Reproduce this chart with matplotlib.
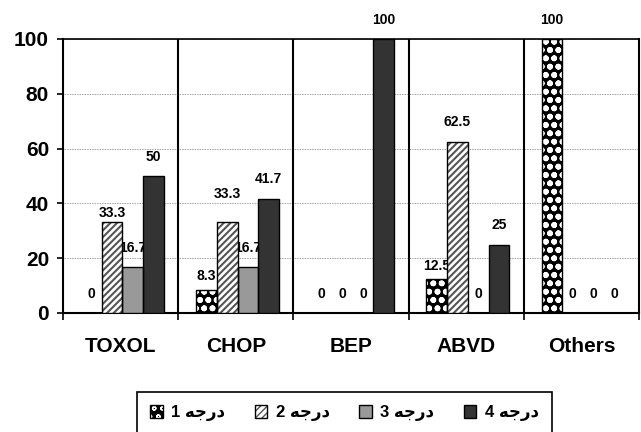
import matplotlib
matplotlib.use("Agg")
import matplotlib.pyplot as plt
from matplotlib.patches import Patch
import numpy as np

# data (percent of patients per grade)
categories = ["TOXOL", "CHOP", "BEP", "ABVD", "Others"]
grade_names = ["درجه 1", "درجه 2", "درجه 3", "درجه 4"]
grade1 = [0, 8.3, 0, 12.5, 100]
grade2 = [33.3, 33.3, 0, 62.5, 0]
grade3 = [16.7, 16.7, 0, 0, 0]
grade4 = [50, 41.7, 100, 25, 0]
yticks = [0, 20, 40, 60, 80, 100]

# a few labels were nudged by hand in the source (px, + = up)
label_nudge = {(0, 1): -11, (1, 0): -5, (1, 1): 8, (3, 0): -7}

# matplotlib does no arabic shaping, so map letters to presentation forms
# (isolated, final, initial, medial)
AR_FORMS = {
    "د": ("\ufea9", "\ufeaa", None, None),
    "ر": ("\ufead", "\ufeae", None, None),
    "ج": ("\ufe9d", "\ufe9e", "\ufe9f", "\ufea0"),
    "ه": ("\ufee9", "\ufeea", "\ufeeb", "\ufeec"),
}


def shape_word(w):
    if not all(ch in AR_FORMS for ch in w):
        return w
    out = []
    for i, ch in enumerate(w):
        iso, fin, ini, med = AR_FORMS[ch]
        prev_joins = i > 0 and AR_FORMS[w[i - 1]][2] is not None
        can_fwd = ini is not None and i < len(w) - 1
        if prev_joins and can_fwd:
            out.append(med)
        elif prev_joins:
            out.append(fin)
        elif can_fwd:
            out.append(ini)
        else:
            out.append(iso)
    return "".join(reversed(out))


def rtl(s):
    """visual left-to-right string for an rtl label."""
    return " ".join(shape_word(w) for w in reversed(s.split(" ")))


plt.rcParams["font.family"] = ["Liberation Sans", "DejaVu Sans"]
plt.rcParams["font.weight"] = "bold"

series = [grade1, grade2, grade3, grade4]
styles = [
    dict(face="black", hatch="oo", hcolor="white", hlw=1.8),
    dict(face="white", hatch="/////", hcolor="#555555", hlw=1.5),
    dict(face="#999999", hatch=None, hcolor="#999999", hlw=1.0),
    dict(face="#333333", hatch=None, hcolor="#333333", hlw=1.0),
]

fig = plt.figure(figsize=(6.41, 4.32), dpi=100)
ax = fig.add_axes([63 / 641, 1 - 313 / 432, (639 - 63) / 641, (313 - 39) / 432])

x = np.arange(len(categories))
width = 0.18
offsets = (np.arange(4) - 1.5) * width + 0.015

handles = []
for gi, (vals, st) in enumerate(zip(series, styles)):
    with plt.rc_context({"hatch.linewidth": st["hlw"]}):
        ax.bar(x + offsets[gi], vals, width, color=st["face"], hatch=st["hatch"],
               edgecolor=st["hcolor"], linewidth=0, zorder=3)
        fill = Patch(facecolor=st["face"], hatch=st["hatch"],
                     edgecolor=st["hcolor"], linewidth=0)
    ax.bar(x + offsets[gi], vals, width, fill=False, edgecolor="black",
           linewidth=1.0, zorder=4)
    outline = Patch(fill=False, edgecolor="black", linewidth=1.0)
    handles.append((fill, outline))
    for ci, v in enumerate(vals):
        dy = 14 + label_nudge.get((ci, gi), 0) * 0.72
        ax.annotate(f"{v:g}", (x[ci] + offsets[gi], v), xytext=(0, dy),
                    textcoords="offset points", ha="center", va="center",
                    fontsize=10, fontweight="bold", zorder=2.5,
                    annotation_clip=False)

# category separators
ax.vlines(x[:-1] + 0.5, 0, 100, color="black", linewidth=1.5, zorder=2)

ax.set_xlim(-0.5, len(categories) - 0.5)
ax.set_ylim(0, 100)
ax.set_yticks(yticks)
ax.set_yticklabels([str(t) for t in yticks], fontsize=15, fontweight="bold")
ax.yaxis.grid(True, linestyle=(0, (1, 1)), color="#808080", linewidth=0.6)
ax.set_axisbelow(True)
ax.tick_params(axis="y", direction="out", length=4, width=1.2, pad=6)

ax.set_xticks(x)
ax.set_xticklabels(categories, fontsize=15, fontweight="bold")
ax.tick_params(axis="x", which="major", length=0, pad=17)
ax.set_xticks(np.arange(len(categories) + 1) - 0.5, minor=True)
ax.tick_params(axis="x", which="minor", direction="out", length=5, width=1.2)

for side in ["left", "bottom", "right"]:
    ax.spines[side].set_linewidth(1.5)
ax.spines["top"].set_linewidth(1.2)

leg = fig.legend(handles, [rtl(n) for n in grade_names], ncol=4,
                 loc="upper left", mode="expand",
                 bbox_to_anchor=(137 / 641, -0.3, 415 / 641, 0.3 + 1 - 392 / 432),
                 bbox_transform=fig.transFigure, borderaxespad=0,
                 prop={"weight": "bold", "size": 12},
                 handlelength=0.75, handleheight=0.75, handletextpad=0.5,
                 columnspacing=1.2, borderpad=0.8, fancybox=False,
                 edgecolor="black", framealpha=1)
leg.get_frame().set_linewidth(1.2)

fig.savefig("out.png", dpi=100)
